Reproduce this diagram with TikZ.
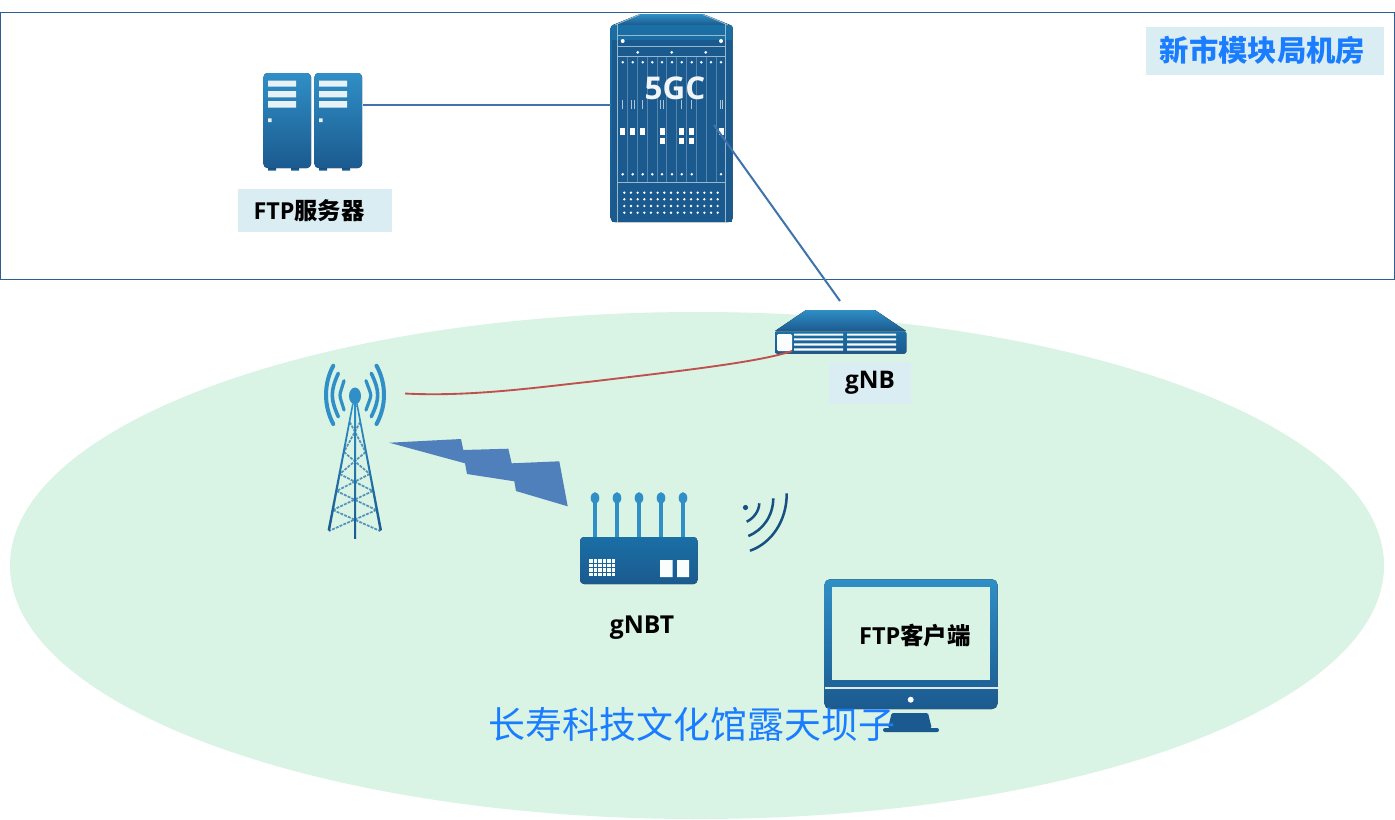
\documentclass[tikz,border=0pt]{standalone}
\usepackage{fontspec}
\setmainfont{Open Sans}
\newfontfamily\cjkf{Noto Sans CJK SC}
\definecolor{bgell}{HTML}{D9F3E5}
\definecolor{lab}{HTML}{DAEDF3}
\definecolor{ink}{HTML}{1B5A8F}
\definecolor{top}{HTML}{2F8FC6}
\definecolor{mid}{HTML}{1A6FA5}
\definecolor{titleblue}{HTML}{1A7DFF}
\definecolor{frame}{HTML}{2F5F8F}
\definecolor{wire}{HTML}{3E73AB}
\definecolor{bolt}{HTML}{5080BC}
\definecolor{redw}{HTML}{C0504D}
\definecolor{pale}{HTML}{DCEAF0}
\tikzset{
  labelbox/.style={fill=lab,inner sep=0pt,text=black,font=\bfseries,align=center},
  plaintext/.style={inner sep=0pt,text=black,font=\fontsize{18.5}{20}\selectfont\bfseries},
  iconfill/.style={top color=top,bottom color=ink},
  bodyfill/.style={top color=mid,bottom color=ink},
  wireline/.style={draw=wire,line width=1.5pt},
  railline/.style={draw=pale!65!ink,line width=.6pt},
  slotline/.style={draw=pale!30!ink,line width=.5pt},
  radio/.style={draw=top,line cap=round},
  wifi/.style={draw=ink!90!black,line width=1.9pt},
  lattice/.style={draw=mid!75!white,line width=1.3pt,dash pattern=on 2.2pt off .9pt},
}
\newcommand{\serverunit}[1]{%
  \begin{scope}[xshift=#1*0.75pt]
    \fill[ink] (268,165) rectangle (276,170.5) (291,165) rectangle (299,170.5);
    \fill[iconfill,rounded corners=3pt] (263.5,73) rectangle (311,168);
    \fill[white!88!top] (268,80.7) rectangle (296,86.7) (268,91) rectangle (296,97.3) (268,101) rectangle (296,107.7) (268,118.3) rectangle (271.5,122);
  \end{scope}}
\begin{document}
\begin{tikzpicture}[x=0.75pt,y=-0.75pt]
\useasboundingbox (0,0) rectangle (1395,819);
\fill[white] (0,0) rectangle (1395,819);
% ellipse and machine room
\fill[bgell] (697,565.5) ellipse [x radius=687,y radius=253.5];
\draw[frame,line width=.7pt] (.5,12.5) rectangle (1394.5,279.5);
\node[labelbox,minimum width=238*.75pt,minimum height=48*.75pt] (roomlabel) at (1265,51) {};
\node[inner sep=0pt,text=titleblue,font=\fontsize{22}{24}\selectfont\cjkf\bfseries] (roomtext) at (1262.5,50.5) {新市模块局机房};
% server
\serverunit{0}\serverunit{51}
\node[labelbox,minimum width=154*.75pt,minimum height=43*.75pt] (serverlabel) at (315,210.5) {};
\node[inner sep=0pt,text=black,font=\fontsize{17.5}{20}\selectfont\bfseries] (servertext) at (309,210.5) {FTP{\cjkf\bfseries 服务器}};
\coordinate (serverport) at (362.5,105);
% 5GC cabinet
\fill[iconfill] (613,25) -- (640,14) -- (703,14) -- (730,25) -- cycle;
\fill[bodyfill,draw=none] (610.7,28) arc[start angle=180,end angle=270,radius=3] -- (729.7,25) arc[start angle=-90,end angle=0,radius=3] -- (732.7,218) arc[start angle=0,end angle=90,radius=4] -- (614.7,222) arc[start angle=90,end angle=180,radius=4] -- cycle;
\fill[ink] (612,40) rectangle (732,222);
\draw[railline] (615,25) -- (640,14.5) (728,25) -- (703,14.5);
\draw[railline] (617.7,24) -- (617.7,222) (725.7,24) -- (725.7,222);
\draw[railline] (617.7,35) -- (725.7,35) (617.7,46.7) -- (725.7,46.7) (617.7,56.7) -- (725.7,56.7) (617.7,182.3) -- (725.7,182.3);
\foreach \x in {627.7,637.7,647.3,657.3,666.7,676.7,686.7,696.7,706.7,716}
  \draw[slotline] (\x,56.7) -- (\x,182.3);
\foreach \x in {622.7,721} \fill[white] (\x,41) circle[radius=2];
\foreach \x in {637.7,671.7,705.7} \fill[white] (\x,52.3) circle[radius=1.5];
\foreach \x in {622.7,632.7,642.7,652.3,662,672,681.7,691.7,701.3,711,721} \fill[white] (\x,62.3) circle[radius=1.4];
\foreach \x in {622.7,632.7,642.7,652.3,662,672,681.7,691.7,721} \fill[white] (\x,174.3) circle[radius=1.4];
\foreach \x in {622.7,631.7,634,642.7,660.7,663.3,681.7,691.7,720,722.3}
  \draw[white!65!ink,line width=.7pt] (\x,100) -- (\x,109);
\foreach \x in {622.7,632.7,642.7,662,681.7,691.7,721} \fill[white] (\x-2.5,128.3) rectangle (\x+2.5,134.5);
\foreach \x in {662,681.7,691.7} \fill[white] (\x-2.5,137.7) rectangle (\x+2.5,144.3);
\foreach \y in {192.7,199.3,206,212.7}
  \foreach \i in {0,...,14} \fill[white] (624.3+6.67*\i,\y) circle[radius=1.3];
\node[inner sep=0pt,text=white!94!ink,font=\fontsize{23.5}{26}\selectfont\bfseries] (corelabel) at (675,88) {5GC};
\coordinate (coreport) at (611,105);
\coordinate (corediag) at (714,125);
\draw[wireline] (serverport) -- (coreport);
% gNB
\coordinate (gnbtop) at (840,301);
\draw[wireline] (corediag) -- (gnbtop);
\fill[iconfill] (775,331) -- (806,310) -- (875,310) -- (906,331) -- cycle;
\fill[bodyfill,rounded corners=1.5pt] (775,331.5) rectangle (906.3,353.5);
\fill[white!88!bgell,rounded corners=1pt] (777,334) rectangle (792,351);
\foreach \y/\z in {333.5/335.7,338.3/340.4,343.3/345.6,348.3/350.6}
  \fill[white!90!bgell] (794,\y) rectangle (843,\z) (847,\y) rectangle (896,\z);
\node[labelbox,minimum width=82*.75pt,minimum height=42*.75pt,font=\fontsize{18.2}{20}\selectfont\bfseries] (gnblabel) at (870,383) {gNB};
% tower
\foreach \a/\b/\c/\d/\w in {333.3/365.7/323.6/424/4,338.3/373.3/330.3/416.7/3.6,344/380.7/338.7/410/3.2}
  \draw[radio,line width=\w*.75pt] (\a,\b) .. controls (\c,\b+18) and (\c,\d-18) .. (\a,\d);
\foreach \a/\b/\c/\d/\w in {376.5/365.7/386.5/424/4,371.3/373.3/379.8/416.7/3.6,366/380.7/372.3/410/3.2}
  \draw[radio,line width=\w*.75pt] (\a,\b) .. controls (\c,\b+18) and (\c,\d-18) .. (\a,\d);
\foreach \ya/\yb in {422/452,452/474,474/491,491/510,510/531}{
  \pgfmathsetmacro{\la}{353-24*(\ya-405)/125}\pgfmathsetmacro{\lb}{353-24*(\yb-405)/125}
  \pgfmathsetmacro{\ra}{357+23*(\ya-405)/125}\pgfmathsetmacro{\rb}{357+23*(\yb-405)/125}
  \draw[lattice] (\la,\ya) -- (\rb,\yb) (\ra,\ya) -- (\lb,\yb);
}
\shade[top color=top,bottom color=ink] (352,404) -- (353.6,404) -- (330,531) -- (327.6,530) -- cycle;
\shade[top color=top,bottom color=ink] (356.2,404) -- (357.8,404) -- (382,530) -- (379.6,531) -- cycle;
\shade[top color=top,bottom color=ink] (354,404) -- (356,404) -- (356,538) -- (354,538) -- cycle;
\fill[top] (355,396) ellipse[x radius=6,y radius=8.5];
\coordinate (towerport) at (405,393.5);
\coordinate (gnbport) at (792,351);
\draw[redw,line width=1.4pt] (towerport) .. controls (470,397) and (540,387) .. (590,381.7) .. controls (680,371) and (760,362) .. (gnbport);
% bolt
\fill[bolt] (389.3,442.7) -- (461,439) -- (463.3,450) -- (508.3,448.7) -- (511.7,463.3) -- (559.3,461.3) -- (567.7,506.3) -- (516,491) -- (514.3,481.3) -- (467,474) -- (465,463.3) -- cycle;
% gNBT
\foreach \x in {595,617,639,661,683}{
  \fill[top] (\x-1.6,498) rectangle (\x+1.6,540);
  \fill[top] (\x,498) ellipse[x radius=4.3,y radius=5.8];
}
\fill[bodyfill,rounded corners=3pt] (580,537) rectangle (697.5,584);
\foreach \i in {0,...,5}\foreach \j in {0,1,2,3}
  \fill[white!85!bgell] (589+4.5*\i,559.3+4.5*\j) rectangle ++(3.6,3.6);
\fill[white!85!bgell] (660,560) rectangle (672.5,577) (677,560) rectangle (689,577);
\node[plaintext] (gnbtlabel) at (642,628) {gNBT};
% wifi
\fill[ink!90!black] (745.5,507.5) circle[radius=2.6];
\draw[wifi] (759.3,503.3) .. controls (759,511) and (754,518) .. (746.7,521.7);
\draw[wifi] (773.3,498.3) .. controls (773,516) and (763,530) .. (748.3,536);
\draw[wifi] (786.7,493.3) .. controls (787,520) and (772,543) .. (750,550.7);
% monitor
\fill[ink,rounded corners=1pt] (891.7,713) -- (928,713) -- (931.7,728) -- (888,728) -- cycle;
\fill[ink,rounded corners=1.5pt] (883,728) rectangle (939,732);
\fill[iconfill,rounded corners=4pt] (824.5,579.3) -- (997.5,579.3) -- (997.5,709) -- (824.5,709) -- cycle;
\fill[bgell] (831.7,586.7) rectangle (990,680);
\fill[pale] (824.5,687) rectangle (997.5,689);
\fill[white!90!bgell] (910.7,699.7) circle[radius=3];
\node[plaintext,font=\fontsize{17.6}{20}\selectfont\bfseries] (clientlabel) at (915,636) {FTP{\cjkf\bfseries 客户端}};
\node[inner sep=0pt,text=titleblue,font=\fontsize{27.7}{30}\selectfont\cjkf] (sitelabel) at (692,724) {长寿科技文化馆露天坝子};
\end{tikzpicture}
\end{document}
